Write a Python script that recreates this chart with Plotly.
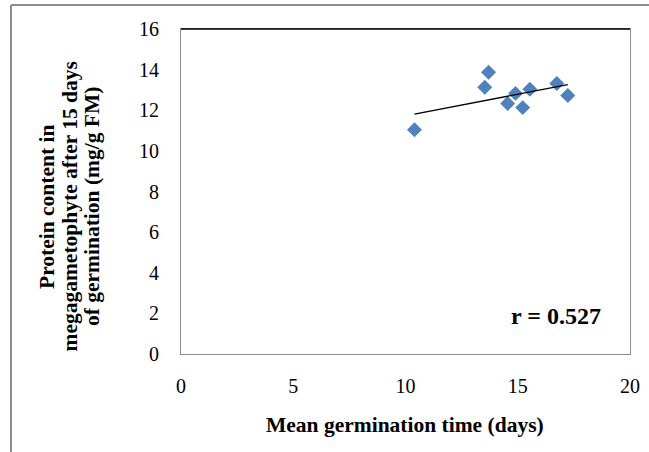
import numpy as np
import plotly.graph_objects as go

# Data
mgt_days = [10.4, 13.53, 13.7, 14.55, 14.9, 15.22, 15.54, 16.74, 17.23]
protein = [11.04, 13.13, 13.87, 12.33, 12.83, 12.13, 13.03, 13.32, 12.73]
x_ticks = [0, 5, 10, 15, 20]
y_ticks = [0, 2, 4, 6, 8, 10, 12, 14, 16]
r_label = "r = 0.527"
y_title_lines = ["Protein content in", "megagametophyte after 15 days", "of germination (mg/g FM)"]
x_title = "Mean germination time (days)"

slope, intercept = np.polyfit(mgt_days, protein, 1)
x_fit = [min(mgt_days), max(mgt_days)]
y_fit = [slope * v + intercept for v in x_fit]

font_family = "Liberation Serif, Times New Roman, serif"
grey = "#8c8c8c"

L, R, T, B = 181, 19, 29, 98
PW, PH = 649 - L - R, 452 - T - B


def px(x):
    return (x - L) / PW


def py(y):
    return (452 - B - y) / PH


fig = go.Figure()
fig.add_trace(go.Scatter(
    x=mgt_days, y=protein, mode="markers",
    marker=dict(symbol="diamond", size=11.5, color="#4F81BD"),
    showlegend=False, hoverinfo="x+y",
))
fig.add_trace(go.Scatter(
    x=x_fit, y=y_fit, mode="lines",
    line=dict(color="black", width=1.3),
    showlegend=False, hoverinfo="skip",
))

annotations = [
    dict(text="<b>" + x_title + "</b>", xref="paper", yref="paper",
         x=px(405), y=py(425), showarrow=False,
         font=dict(family=font_family, size=21.5), xanchor="center", yanchor="middle"),
    dict(text="<b>" + r_label + "</b>", xref="paper", yref="paper",
         x=px(556), y=py(316), showarrow=False,
         font=dict(family=font_family, size=24), xanchor="center", yanchor="middle"),
]
for i, line in enumerate(y_title_lines):
    annotations.append(dict(
        text="<b>" + line + "</b>", xref="paper", yref="paper",
        x=px(47 + 22.5 * i), y=py(207), showarrow=False, textangle=-90,
        font=dict(family=font_family, size=21.5), xanchor="center", yanchor="middle"))

fig.update_layout(
    width=649, height=452,
    margin=dict(l=L, r=R, t=T, b=B, autoexpand=False),
    paper_bgcolor="white", plot_bgcolor="white",
    font=dict(family=font_family, size=16, color="black"),
    xaxis=dict(
        range=[0, 20], tickvals=x_ticks, showgrid=False, zeroline=False,
        showline=True, linecolor=grey, linewidth=1, mirror=True,
        ticks="", ticklabelstandoff=14, automargin=False,
        tickfont=dict(family=font_family, size=20),
    ),
    yaxis=dict(
        range=[0, 16], tickvals=y_ticks, showgrid=False, zeroline=False,
        showline=True, linecolor=grey, linewidth=1, mirror=True,
        ticks="", ticklabelstandoff=17, automargin=False,
        tickfont=dict(family=font_family, size=20),
    ),
    shapes=[
        dict(type="line", xref="paper", yref="paper", x0=0, x1=1, y0=1, y1=1,
             line=dict(color="black", width=1.5)),
        dict(type="line", xref="paper", yref="paper", x0=px(11), x1=px(660),
             y0=py(5), y1=py(5), line=dict(color=grey, width=2)),
        dict(type="line", xref="paper", yref="paper", x0=px(11), x1=px(11),
             y0=py(5), y1=py(460), line=dict(color=grey, width=2)),
    ],
    annotations=annotations,
)

fig.write_html(
    "out.html",
    config={"displayModeBar": False},
    post_script="document.body.style.margin='0';document.body.style.overflow='hidden';",
)
